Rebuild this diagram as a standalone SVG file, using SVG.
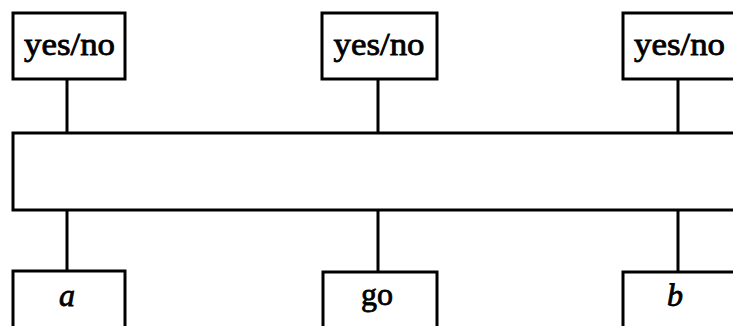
<svg xmlns="http://www.w3.org/2000/svg" width="733" height="326" viewBox="0 0 733 326">
<style>
.box{fill:#fff;stroke:#000;stroke-width:3}
.ln{stroke:#000;stroke-width:3;fill:none}
.t{font-family:"Liberation Serif","Times New Roman",serif;font-size:32px;fill:#000;stroke:#000;stroke-width:0.8;text-anchor:middle}
.i{font-style:italic}
</style>
<rect width="733" height="326" fill="#fff"/>
<g id="connectors">
<line class="ln" x1="67" y1="79" x2="67" y2="133"/>
<line class="ln" x1="378" y1="79" x2="378" y2="133"/>
<line class="ln" x1="678" y1="79" x2="678" y2="133"/>
<line class="ln" x1="67" y1="210" x2="67" y2="271"/>
<line class="ln" x1="378" y1="210" x2="378" y2="272"/>
<line class="ln" x1="678" y1="210" x2="678" y2="272"/>
</g>
<g id="top1"><rect class="box" x="13" y="13" width="112" height="66"/><text class="t" x="69.5" y="55" textLength="91" lengthAdjust="spacingAndGlyphs">yes/no</text></g>
<g id="top2"><rect class="box" x="322" y="13" width="115" height="66"/><text class="t" x="379" y="55" textLength="91" lengthAdjust="spacingAndGlyphs">yes/no</text></g>
<g id="top3"><rect class="box" x="623" y="13" width="120" height="66"/><text class="t" x="679.5" y="55" textLength="91" lengthAdjust="spacingAndGlyphs">yes/no</text></g>
<g id="bus"><rect class="box" x="13" y="133" width="730" height="77"/></g>
<g id="bot1"><rect class="box" x="13" y="271" width="112" height="70"/><text class="t i" x="67" y="306">a</text></g>
<g id="bot2"><rect class="box" x="323" y="272" width="114" height="70"/><text class="t" x="377" y="305">go</text></g>
<g id="bot3"><rect class="box" x="623" y="272" width="120" height="70"/><text class="t i" x="675" y="306">b</text></g>
</svg>
